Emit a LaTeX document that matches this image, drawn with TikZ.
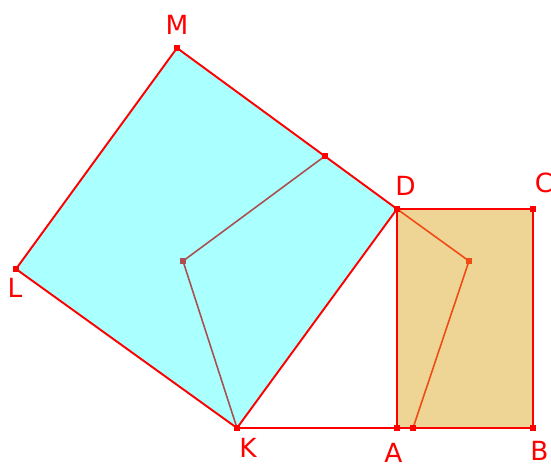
\documentclass[tikz,border=0pt]{standalone}
\usepackage{fontspec}
\setmainfont{DejaVu Sans}
\usepackage{tikz}
\definecolor{segred}{RGB}{255,0,0}
\definecolor{sqfill}{RGB}{170,255,255}
\definecolor{recfill}{RGB}{238,213,150}
\definecolor{sqpath}{RGB}{170,80,80}
\definecolor{recpath}{RGB}{240,75,20}
\tikzset{
  lab/.style={font=\fontsize{15pt}{17pt}\selectfont,text=segred,inner sep=0pt},
  edge/.style={draw=segred,line width=1.1pt},
  inpath/.style={line width=0.9pt},
  ptm/.style={draw=none,rectangle,fill=#1,inner sep=0pt,minimum size=3.6pt},
  ptm/.default=segred,
}
\begin{document}
\begin{tikzpicture}[x=0.02cm,y=-0.02cm]
  \useasboundingbox (0,0) rectangle (551,467);
  \coordinate (M) at (177,48);
  \coordinate (D) at (397,209);
  \coordinate (C) at (533,209);
  \coordinate (L) at (16,269);
  \coordinate (K) at (237,428);
  \coordinate (A) at (397,428);
  \coordinate (B) at (533,428);
  \coordinate (P) at (325,156);
  \coordinate (Q) at (183,261);
  \coordinate (R) at (469,261);
  \coordinate (S) at (413,428);
  \fill[sqfill] (K) -- (L) -- (M) -- (D) -- cycle;
  \fill[recfill] (A) -- (B) -- (C) -- (D) -- cycle;
  \draw[edge,line join=round] (K) -- (L) -- (M) -- (D) -- cycle;
  \draw[edge] (K) -- (A);
  \draw[edge] (A) -- (B) -- (C) -- (D) -- cycle;
  \draw[sqpath,inpath] (P) -- (Q) -- (K);
  \draw[recpath,inpath] (D) -- (R) -- (S);
  \node[ptm] at (M) {};
  \node[ptm] at (D) {};
  \node[ptm] at (C) {};
  \node[ptm] at (L) {};
  \node[ptm] at (K) {};
  \node[ptm] at (A) {};
  \node[ptm] at (B) {};
  \node[ptm] at (S) {};
  \node[ptm] at (P) {};
  \node[ptm=sqpath] at (Q) {};
  \node[ptm=recpath] at (R) {};
  \node[lab] (labM) at (177,25) {M};
  \node[lab] (labD) at (405.5,185.5) {D};
  \node[lab] (labC) at (544,183) {C};
  \node[lab] (labL) at (15,288) {L};
  \node[lab] (labK) at (248,448) {K};
  \node[lab] (labA) at (393.5,453) {A};
  \node[lab] (labB) at (539.5,451) {B};
\end{tikzpicture}
\end{document}
